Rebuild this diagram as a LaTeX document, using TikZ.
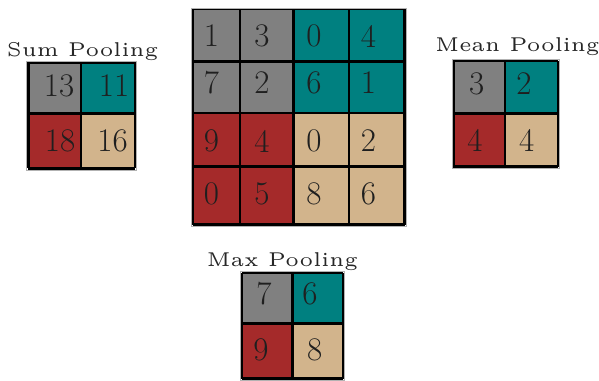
\documentclass[tikz,border=0pt]{standalone}
\usepackage{tikz}
\usepackage{xcolor}
\definecolor{poolgray}{RGB}{128,128,128}
\definecolor{poolteal}{RGB}{0,128,128}
\definecolor{poolred}{RGB}{165,42,42}
\definecolor{pooltan}{RGB}{210,180,140}
\begin{document}
\begin{tikzpicture}[x=1pt,y=-1pt,
  grid/.style={line width=2.8pt,black},
  frame/.style={line width=0.8pt,gray!60},
  num/.style={inner sep=0pt,text=black!88,font=\fontsize{33}{36}\selectfont},
  title/.style={inner sep=0pt,anchor=base,text=black!85,font=\fontsize{5}{6}\selectfont,scale=4}]
\useasboundingbox (0,0) rectangle (599,380);
% input 4x4
\fill[poolgray] (193,9) rectangle (293.5,113);
\fill[poolteal] (293.5,9) rectangle (404.5,113);
\fill[poolred] (193,113) rectangle (293.5,224.5);
\fill[pooltan] (293.5,113) rectangle (404.5,224.5);
\foreach \x in {193,240,293.5,349,404.5} \draw[grid] (\x,9) -- (\x,224.5);
\foreach \y in {9,61.5,113,166.5,224.5} \draw[grid] (193,\y) -- (404.5,\y);
\draw[frame] (191,8) rectangle (406,226);
\foreach \v/\x/\y [count=\i] in {1/211.5/36,3/262/36,0/314/36,4/368.5/36,
  7/211.5/83,2/262/83,6/314/83,1/368.5/83,
  9/211.5/141,4/262/141,0/314/141,2/368.5/141,
  0/211.5/193.5,5/262/193.5,8/314/193.5,6/368.5/193.5}
  \node[num] (in\i) at (\x,\y) {\v};
% sum pooling
\fill[poolgray] (28.3,62.3) rectangle (81,113.3);
\fill[poolteal] (81,62.3) rectangle (135,113.3);
\fill[poolred] (28.3,113.3) rectangle (81,168.3);
\fill[pooltan] (81,113.3) rectangle (135,168.3);
\foreach \x in {28.3,81,135} \draw[grid] (\x,62.3) -- (\x,168.3);
\foreach \y in {62.3,113.3,168.3} \draw[grid] (28.3,\y) -- (135,\y);
\draw[frame] (26.7,61.7) rectangle (136.7,170);
\node[title] (sumlabel) at (82.5,56) {Sum Pooling};
\node[num] (sum1) at (59,86) {13};
\node[num] (sum2) at (114,86) {11};
\node[num] (sum3) at (60,141) {18};
\node[num] (sum4) at (112.5,141) {16};
% mean pooling
\fill[poolgray] (453.3,60.7) rectangle (505,113.3);
\fill[poolteal] (505,60.7) rectangle (558,113.3);
\fill[poolred] (453.3,113.3) rectangle (505,166.7);
\fill[pooltan] (505,113.3) rectangle (558,166.7);
\foreach \x in {453.3,505,558} \draw[grid] (\x,60.7) -- (\x,166.7);
\foreach \y in {60.7,113.3,166.7} \draw[grid] (453.3,\y) -- (558,\y);
\draw[frame] (452.3,59.3) rectangle (559.3,168.3);
\node[title] (meanlabel) at (517.5,51) {Mean Pooling};
\node[num] (mean1) at (476.7,84) {3};
\node[num] (mean2) at (524,84) {2};
\node[num] (mean3) at (475,140) {4};
\node[num] (mean4) at (526.7,140) {4};
% max pooling
\fill[poolgray] (241.7,272.7) rectangle (292.7,323.3);
\fill[poolteal] (292.7,272.7) rectangle (343.3,323.3);
\fill[poolred] (241.7,323.3) rectangle (292.7,378.5);
\fill[pooltan] (292.7,323.3) rectangle (343.3,378.5);
\foreach \x in {241.7,292.7,343.3} \draw[grid] (\x,272.7) -- (\x,378.5);
\foreach \y in {272.7,323.3,378.5} \draw[grid] (241.7,\y) -- (343.3,\y);
\draw[frame] (240,271.7) rectangle (344.3,380);
\node[title] (maxlabel) at (282.5,266) {Max Pooling};
\node[num] (max1) at (264,294) {7};
\node[num] (max2) at (310,294) {6};
\node[num] (max3) at (261,350) {9};
\node[num] (max4) at (314.7,350) {8};
\end{tikzpicture}
\end{document}
